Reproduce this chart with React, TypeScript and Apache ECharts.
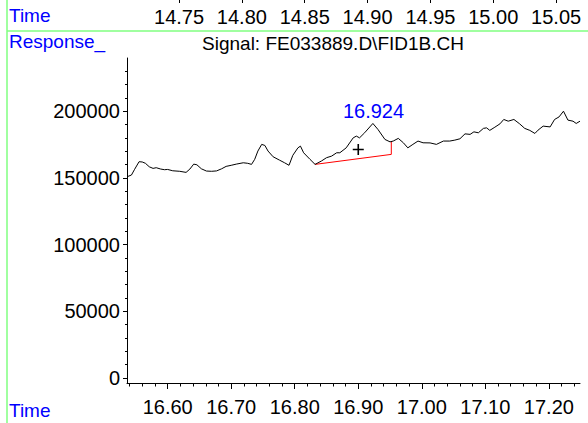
import React, { useEffect, useRef } from "react";
import * as echarts from "echarts";

const traceTimes = [
  16.536, 16.543, 16.548, 16.555, 16.56, 16.565, 16.571, 16.577, 16.582, 16.589,
  16.595, 16.6, 16.608, 16.619, 16.629, 16.635, 16.641, 16.646, 16.653, 16.661,
  16.669, 16.677, 16.685, 16.692, 16.7, 16.708, 16.719, 16.726, 16.732, 16.737,
  16.742, 16.748, 16.753, 16.758, 16.766, 16.776, 16.784, 16.791, 16.797, 16.805,
  16.809, 16.814, 16.824, 16.832, 16.842, 16.85, 16.858, 16.866, 16.871, 16.881,
  16.892, 16.897, 16.902, 16.91, 16.923, 16.931, 16.942, 16.95, 16.955, 16.963,
  16.971, 16.978, 16.986, 16.994, 17.002, 17.013, 17.023, 17.034, 17.044, 17.052,
  17.06, 17.068, 17.076, 17.082, 17.089, 17.097, 17.102, 17.107, 17.115, 17.123,
  17.129, 17.136, 17.145, 17.154, 17.162, 17.17, 17.178, 17.183, 17.191, 17.202,
  17.209, 17.216, 17.223, 17.23, 17.238, 17.243, 17.249,
];
const traceValues = [
  150900, 152200, 156500, 162200, 162000, 161000, 158400, 157200, 157700, 156700,
  156200, 156400, 155400, 155000, 154200, 156700, 160400, 159900, 156900, 155200,
  155000, 155300, 156900, 158700, 159500, 160400, 161400, 161000, 160200, 164000,
  170200, 175200, 174400, 170200, 165900, 163400, 161400, 159500, 167000, 172600,
  173900, 168900, 164000, 160200, 162700, 165200, 166400, 168900, 168900, 172600,
  180100, 181400, 180100, 183900, 190900, 186400, 178900, 177100, 177700, 179700,
  176400, 172600, 175200, 177700, 176400, 176300, 175200, 177700, 177700, 178400,
  179400, 183100, 182700, 184600, 183900, 187200, 187600, 185700, 188100, 190600,
  193900, 192600, 193900, 190600, 187200, 185700, 183400, 185900, 188900, 188300,
  193900, 195800, 200100, 193400, 192600, 190900, 192600,
];
const baselineTimes = [16.832, 16.952, 16.952];
const baselineValues = [160200, 167700, 177700];
const peakTime = 16.924;
const peakValue = 190900;
const peakLabel = "16.924";
const crossTime = 16.9;
const crossValue = 171400;

const bottomTicks = [16.6, 16.7, 16.8, 16.9, 17.0, 17.1, 17.2];
const bottomMinorTicks = [
  16.54, 16.56, 16.58, 16.6, 16.62, 16.64, 16.66, 16.68, 16.7, 16.72, 16.74, 16.76,
  16.78, 16.8, 16.82, 16.84, 16.86, 16.88, 16.9, 16.92, 16.94, 16.96, 16.98, 17.0,
  17.02, 17.04, 17.06, 17.08, 17.1, 17.12, 17.14, 17.16, 17.18, 17.2, 17.22, 17.24,
];
const topTicks = [14.75, 14.8, 14.85, 14.9, 14.95, 15.0, 15.05];
const yTicks = [0, 50000, 100000, 150000, 200000];
const yMinorTicks = [
  0, 10000, 20000, 30000, 40000, 50000, 60000, 70000, 80000, 90000, 100000, 110000,
  120000, 130000, 140000, 150000, 160000, 170000, 180000, 190000, 200000, 210000,
  220000, 230000,
];

const titleText = "Signal: FE033889.D\\FID1B.CH";
const FONT = "'Liberation Sans', Arial, sans-serif";

export default function App() {
  const ref = useRef<HTMLDivElement>(null);
  useEffect(() => {
    if (!ref.current) return;
    const chart = echarts.init(ref.current, null, { renderer: "svg" });
    const xMin = 16.536;
    const xMax = 17.249;
    const yMin = -3800;
    const yMax = 240000;
    const blue = "#0000ff";
    const green = "#80ff80";
    chart.setOption({
      animation: false,
      backgroundColor: "#ffffff",
      textStyle: { fontFamily: FONT },
      grid: [
        { left: 127, right: 8, top: 58, bottom: 40 },
        { left: 127, right: 8, top: 0, height: 3 },
      ],
      xAxis: [
        {
          type: "value",
          gridIndex: 0,
          min: xMin,
          max: xMax,
          axisLine: { show: true, onZero: false, lineStyle: { color: "#000", width: 1 } },
          axisTick: { show: true, length: 6, customValues: bottomTicks, lineStyle: { color: "#000" } },
          axisLabel: {
            show: true,
            customValues: bottomTicks,
            formatter: (v: number) => v.toFixed(2),
            color: "#000",
            fontSize: 20,
            fontFamily: FONT,
            margin: 14,
          },
          splitLine: { show: false },
        },
        {
          type: "value",
          gridIndex: 0,
          min: xMin,
          max: xMax,
          position: "bottom",
          axisLine: { show: false, onZero: false },
          axisTick: { show: true, length: 3.5, customValues: bottomMinorTicks, lineStyle: { color: "#000" } },
          axisLabel: { show: false },
          splitLine: { show: false },
        },
        {
          type: "value",
          gridIndex: 1,
          min: 14.7086,
          max: 15.069,
          position: "bottom",
          axisLine: { show: false, onZero: false },
          axisTick: { show: true, inside: true, length: 3, customValues: topTicks, lineStyle: { color: "#000" } },
          axisLabel: {
            show: true,
            customValues: topTicks,
            formatter: (v: number) => v.toFixed(2),
            color: "#000",
            fontSize: 20,
            fontFamily: FONT,
            margin: 4,
          },
          splitLine: { show: false },
        },
      ],
      yAxis: [
        {
          type: "value",
          gridIndex: 0,
          min: yMin,
          max: yMax,
          axisLine: { show: true, onZero: false, lineStyle: { color: "#000", width: 1 } },
          axisTick: { show: true, length: 4, customValues: yTicks, lineStyle: { color: "#000" } },
          axisLabel: {
            show: true,
            customValues: yTicks,
            formatter: (v: number) => String(Math.round(v)),
            color: "#000",
            fontSize: 20,
            fontFamily: FONT,
            margin: 7,
          },
          splitLine: { show: false },
        },
        {
          type: "value",
          gridIndex: 0,
          min: yMin,
          max: yMax,
          position: "left",
          axisLine: { show: false, onZero: false },
          axisTick: { show: true, length: 2, customValues: yMinorTicks, lineStyle: { color: "#000" } },
          axisLabel: { show: false },
          splitLine: { show: false },
        },
        { type: "value", gridIndex: 1, show: false, min: 0, max: 1 },
      ],
      series: [
        {
          type: "line",
          xAxisIndex: 0,
          yAxisIndex: 0,
          data: traceTimes.map((t, i) => [t, traceValues[i]]),
          showSymbol: false,
          lineStyle: { color: "#000", width: 1 },
          z: 3,
        },
        {
          type: "line",
          xAxisIndex: 0,
          yAxisIndex: 0,
          data: baselineTimes.map((t, i) => [t, baselineValues[i]]),
          showSymbol: false,
          lineStyle: { color: "#ff0000", width: 1 },
          z: 2,
        },
        {
          type: "scatter",
          xAxisIndex: 0,
          yAxisIndex: 0,
          data: [[peakTime, peakValue]],
          symbolSize: 0,
          itemStyle: { opacity: 1 },
          label: {
            show: true,
            position: "top",
            distance: 2,
            formatter: peakLabel,
            color: blue,
            opacity: 1,
            fontSize: 20,
            fontFamily: FONT,
          },
        },
        {
          type: "scatter",
          xAxisIndex: 0,
          yAxisIndex: 0,
          data: [[crossTime, crossValue]],
          symbol: "path://M0,5L10,5M5,0L5,10",
          symbolSize: 11,
          itemStyle: { color: "none", borderColor: "#000", borderWidth: 1.6, opacity: 1 },
        },
        {
          type: "line",
          xAxisIndex: 2,
          yAxisIndex: 2,
          data: [],
        },
      ],
      graphic: [
        { type: "line", shape: { x1: 7, y1: 31, x2: 588, y2: 31 }, style: { stroke: green, lineWidth: 1.5 }, silent: true },
        { type: "line", shape: { x1: 7, y1: 0, x2: 7, y2: 423 }, style: { stroke: green, lineWidth: 1.5 }, silent: true },
        { type: "text", left: 9, top: 6, style: { text: "Time", fill: blue, font: `19px ${FONT}` } },
        { type: "text", left: 9, top: 32, style: { text: "Response_", fill: blue, font: `19px ${FONT}` } },
        { type: "text", left: 9, top: 401, style: { text: "Time", fill: blue, font: `19px ${FONT}` } },
        { type: "text", x: 333, y: 43, style: { text: titleText, fill: "#000", font: `19px ${FONT}`, align: "center", verticalAlign: "middle" } },
      ],
    });
    return () => chart.dispose();
  }, []);
  return (
    <div
      ref={ref}
      style={{ position: "absolute", left: 0, top: 0, width: 588, height: 423 }}
    />
  );
}
